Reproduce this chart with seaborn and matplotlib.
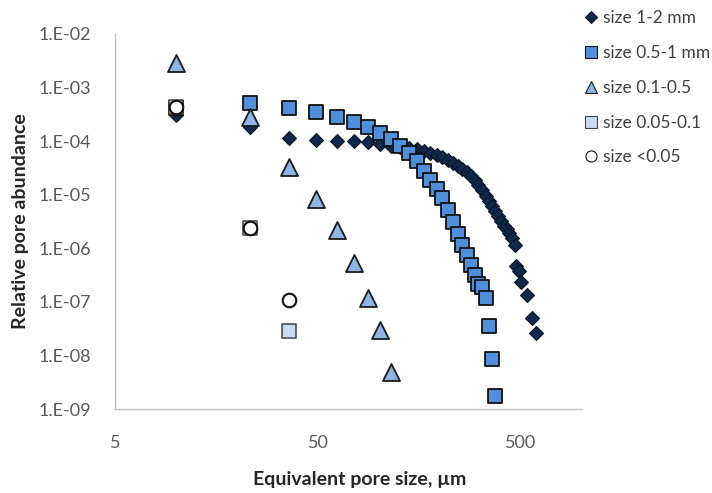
import matplotlib
matplotlib.use("Agg")
import matplotlib.pyplot as plt
from matplotlib.lines import Line2D
import numpy as np
import pandas as pd
import seaborn as sns

# --- data (x: equivalent pore size in um) ---
size_1_2_x = [10, 23, 36, 49, 62, 75, 88, 101, 114, 127, 140, 153, 166, 179,
              192, 205, 218, 231, 244, 257, 270, 283, 296, 309, 322, 335, 348,
              361, 374, 387, 400, 413, 426, 439, 452, 465, 472, 489, 500, 535,
              566, 593]
size_1_2_y = [3.1e-4, 1.8e-4, 1.15e-4, 1.05e-4, 1.01e-4, 1.0e-4, 9.7e-5, 8.9e-5,
              8.1e-5, 7.8e-5, 7.5e-5, 7.1e-5, 6.6e-5, 6.0e-5, 5.5e-5, 5.1e-5,
              4.5e-5, 3.9e-5, 3.4e-5, 3.0e-5, 2.7e-5, 2.2e-5, 1.9e-5, 1.5e-5,
              1.23e-5, 9.5e-6, 7.7e-6, 6.2e-6, 5.0e-6, 4.0e-6, 3.2e-6, 2.6e-6,
              2.3e-6, 1.95e-6, 1.55e-6, 1.16e-6, 4.7e-7, 3.8e-7, 2.3e-7,
              1.35e-7, 5.0e-8, 2.6e-8]

size_05_1_x = [10, 23, 36, 49, 62, 75, 88, 101, 114, 127, 140, 153, 166, 179,
               192, 205, 218, 231, 244, 257, 270, 283, 296, 309, 322, 335, 348,
               361, 374]
size_05_1_y = [4.2e-4, 5.2e-4, 4.2e-4, 3.5e-4, 2.8e-4, 2.3e-4, 1.84e-4, 1.42e-4,
               1.1e-4, 8.1e-5, 6.0e-5, 4.3e-5, 2.8e-5, 1.9e-5, 1.28e-5, 8.7e-6,
               5.2e-6, 3.1e-6, 1.86e-6, 1.16e-6, 7.5e-7, 4.9e-7, 3.2e-7, 2.2e-7,
               1.9e-7, 1.19e-7, 3.6e-8, 8.6e-9, 1.76e-9]

size_01_05_x = [10, 23, 36, 49, 62, 75, 88, 101, 114]
size_01_05_y = [2.9e-3, 2.8e-4, 3.3e-5, 8.3e-6, 2.2e-6, 5.4e-7, 1.2e-7, 3.0e-8, 4.9e-9]

size_005_01_x = [10, 23, 36]
size_005_01_y = [4.4e-4, 2.4e-6, 2.8e-8]

size_lt_005_x = [10, 23, 36]
size_lt_005_y = [4.4e-4, 2.4e-6, 1.1e-7]

x_ticks = [5, 50, 500]
y_ticks = [1e-9, 1e-8, 1e-7, 1e-6, 1e-5, 1e-4, 1e-3, 1e-2]
y_tick_labels = ["1.E-09", "1.E-08", "1.E-07", "1.E-06", "1.E-05", "1.E-04",
                 "1.E-03", "1.E-02"]

series = [
    ("size 1-2 mm", size_1_2_x, size_1_2_y,
     dict(marker="D", s=48, color="#10284A", edgecolor="#0A1A30", linewidth=1.0)),
    ("size 0.5-1 mm", size_05_1_x, size_05_1_y,
     dict(marker="s", s=100, color="#4F8EDB", edgecolor="#111111", linewidth=1.3)),
    ("size 0.1-0.5", size_01_05_x, size_01_05_y,
     dict(marker="^", s=150, color="#8DB5E5", edgecolor="#1A1A1A", linewidth=1.3)),
    ("size 0.05-0.1", size_005_01_x, size_005_01_y,
     dict(marker="s", s=110, color="#C8DBF2", edgecolor="#444444", linewidth=1.1)),
    ("size <0.05", size_lt_005_x, size_lt_005_y,
     dict(marker="o", s=95, color="white", edgecolor="#111111", linewidth=1.5)),
]

sns.set_style("white")
plt.rcParams["font.family"] = ["Lato", "DejaVu Sans"]

fig = plt.figure(figsize=(7.12, 4.93), dpi=100)
ax = fig.add_axes([115 / 712, 1 - 409 / 493, 467 / 712, 375 / 493])

for label, xs, ys, style in series:
    df = pd.DataFrame({"x": xs, "y": ys})
    sns.scatterplot(data=df, x="x", y="y", ax=ax, legend=False, zorder=3, **style)

ax.set_xscale("log")
ax.set_yscale("log")
ax.set_xlim(5, 1000)
ax.set_ylim(1e-9, 1e-2)
ax.set_xticks(x_ticks)
ax.set_xticklabels([str(t) for t in x_ticks])
ax.set_yticks(y_ticks)
ax.set_yticklabels(y_tick_labels)
ax.minorticks_off()
ax.tick_params(axis="both", length=0, labelsize=13, colors="#595959")
ax.tick_params(axis="x", pad=19)
ax.tick_params(axis="y", pad=17)

for side in ("top", "right"):
    ax.spines[side].set_visible(False)
for side in ("left", "bottom"):
    ax.spines[side].set_color("#BFBFBF")
    ax.spines[side].set_linewidth(1.0)

ax.set_xlabel("Equivalent pore size, µm", fontsize=14, fontweight="bold")
ax.set_ylabel("Relative pore abundance", fontsize=14, fontweight="bold")
ax.xaxis.set_label_coords(0.525, -0.165)
ax.yaxis.set_label_coords(-0.185, 0.50)

handles = [
    Line2D([], [], ls="", marker=st["marker"], markerfacecolor=st["color"],
           markeredgecolor=st["edgecolor"], markeredgewidth=0.8,
           markersize={"D": 6.5, "s": 8.5, "^": 9, "o": 8}[st["marker"]])
    for _, _, _, st in series
]
labels = [s[0] for s in series]
fig.legend(handles, labels, loc="upper left", bbox_to_anchor=(0.806, 1.0),
           frameon=False, fontsize=12.5, handlelength=0.8, handletextpad=0.25,
           labelspacing=1.08, borderaxespad=0.2, labelcolor="#404040")

fig.savefig("out.png", dpi=100)
